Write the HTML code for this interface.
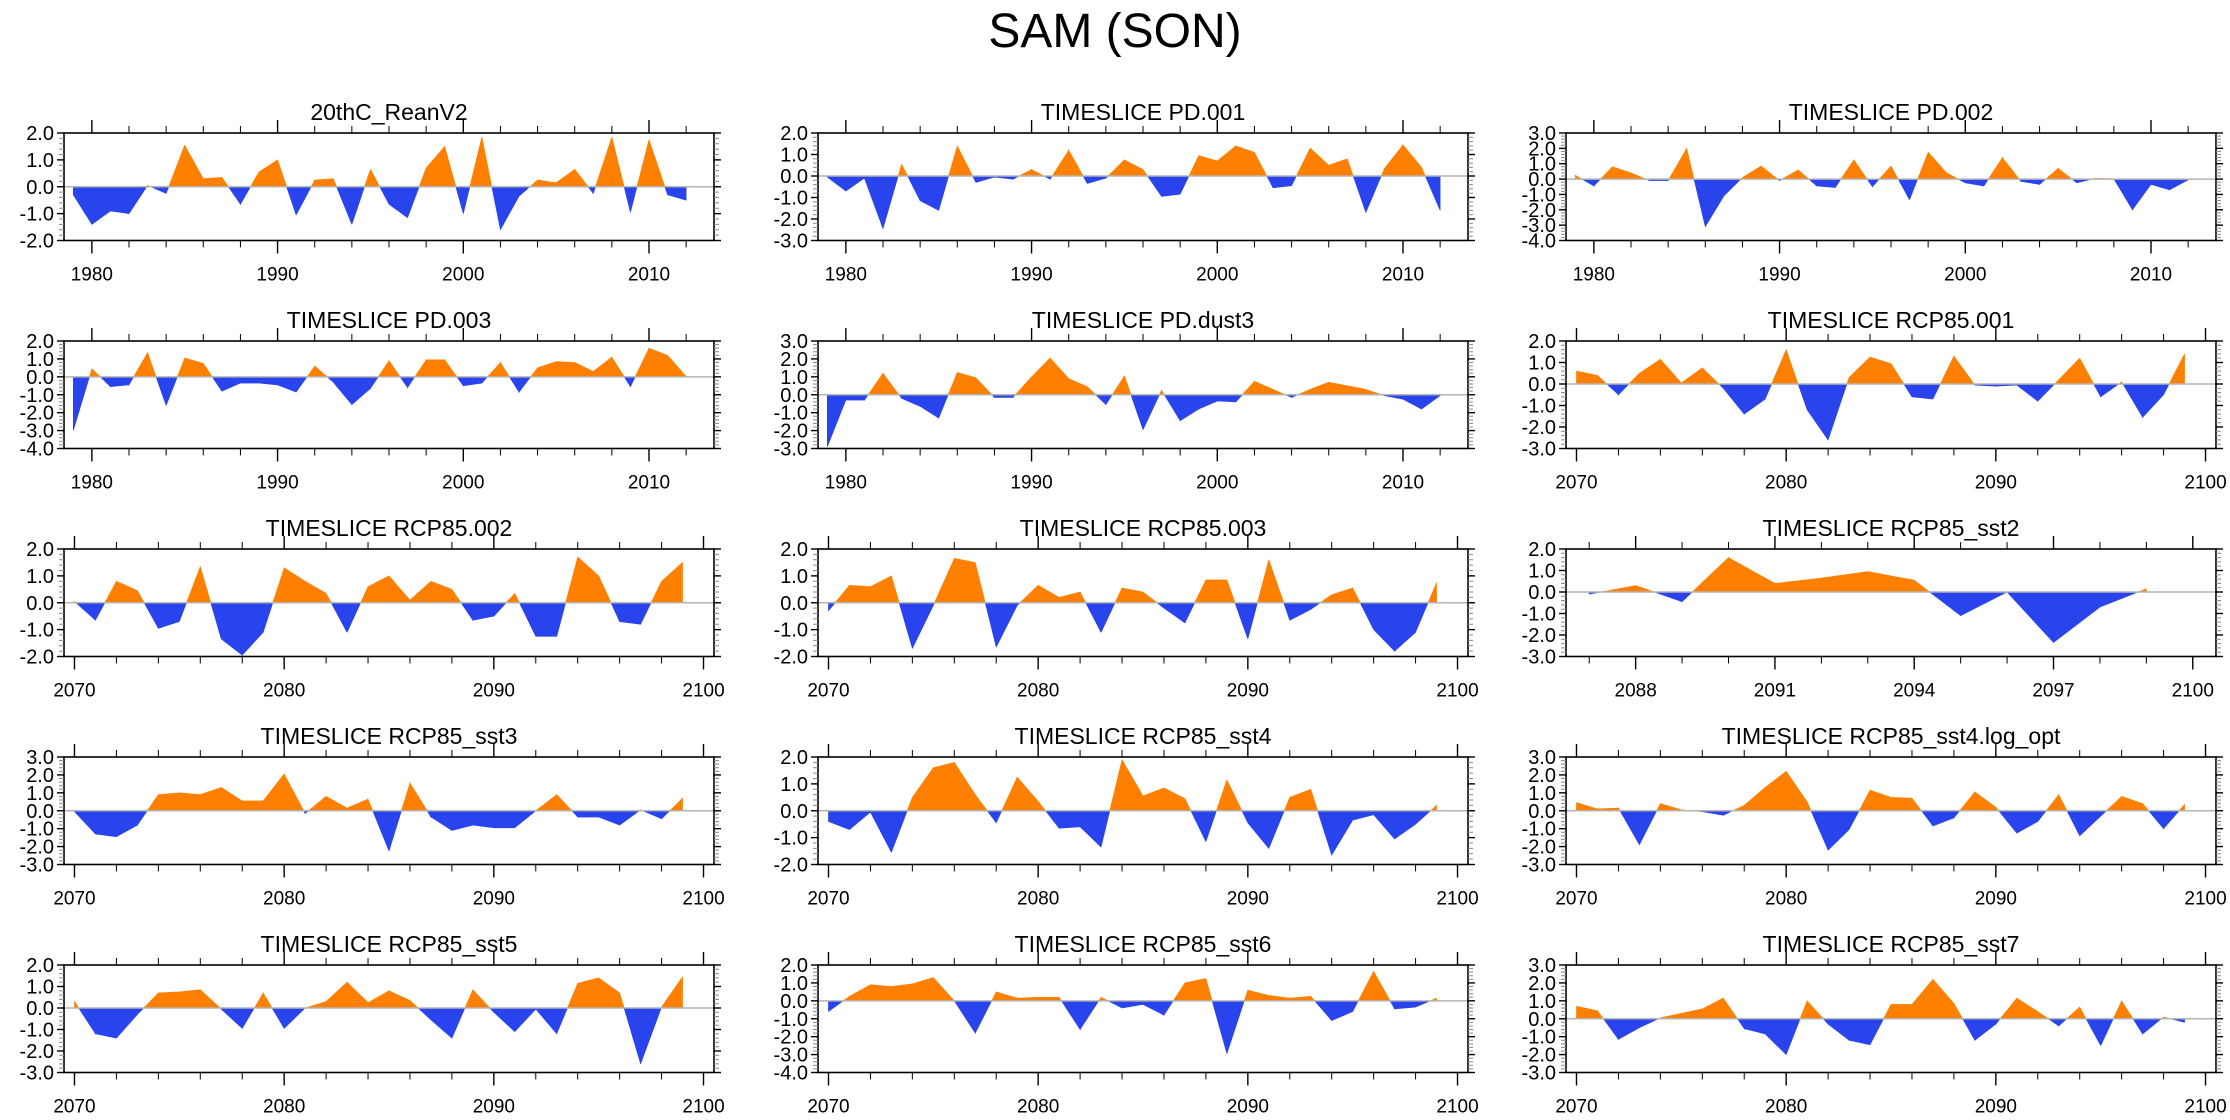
<!DOCTYPE html>
<html><head><meta charset="utf-8"><title>SAM (SON)</title>
<style>
html,body{margin:0;padding:0;background:#fff;}
svg{display:block;font-family:"Liberation Sans",Arial,sans-serif;}
</style></head>
<body>
<svg id="chart" width="2230" height="1120" viewBox="0 0 2230 1120" xmlns="http://www.w3.org/2000/svg">
<rect width="2230" height="1120" fill="#fff"/>
<text x="1115" y="47" font-size="48" text-anchor="middle" fill="#000">SAM (SON)</text>
</svg>
<script>
const titles = ["20thC_ReanV2","TIMESLICE PD.001","TIMESLICE PD.002","TIMESLICE PD.003","TIMESLICE PD.dust3","TIMESLICE RCP85.001","TIMESLICE RCP85.002","TIMESLICE RCP85.003","TIMESLICE RCP85_sst2","TIMESLICE RCP85_sst3","TIMESLICE RCP85_sst4","TIMESLICE RCP85_sst4.log_opt","TIMESLICE RCP85_sst5","TIMESLICE RCP85_sst6","TIMESLICE RCP85_sst7"];
const startYears = [1979,1979,1979,1979,1979,2070,2070,2070,2087,2070,2070,2070,2070,2070,2070];
const yMins = [-2,-3,-4,-4,-3,-3,-2,-2,-3,-3,-2,-3,-3,-4,-3];
const yMaxs = [2,2,3,2,3,2,2,2,2,3,2,3,2,2,3];
const xMajorSteps = [10,10,10,10,10,10,10,10,3,10,10,10,10,10,10];
const xMinorSteps = [2,2,2,2,2,2,2,2,1,2,2,2,2,2,2];

const v_reanV2 = [-0.3,-1.4,-0.9,-1.0,0.05,-0.25,1.55,0.3,0.35,-0.65,0.55,1.0,-1.05,0.25,0.3,-1.4,0.65,-0.65,-1.15,0.7,1.5,-1.0,1.85,-1.6,-0.35,0.25,0.15,0.65,-0.25,1.85,-0.95,1.75,-0.3,-0.5];
const v_pd001 = [-0.05,-0.7,-0.1,-2.45,0.55,-1.15,-1.6,1.4,-0.3,-0.05,-0.15,0.3,-0.15,1.2,-0.35,-0.1,0.75,0.3,-0.95,-0.85,0.95,0.7,1.4,1.1,-0.55,-0.45,1.3,0.5,0.8,-1.7,0.35,1.45,0.4,-1.6];
const v_pd002 = [0.25,-0.45,0.8,0.4,-0.1,-0.1,2.0,-3.1,-1.1,0.1,0.85,-0.1,0.6,-0.45,-0.55,1.25,-0.5,0.85,-1.35,1.75,0.4,-0.25,-0.45,1.4,-0.15,-0.35,0.7,-0.25,0.05,0.02,-2.0,-0.35,-0.7,-0.05];
const v_pd003 = [-3.0,0.45,-0.55,-0.45,1.35,-1.6,1.05,0.75,-0.8,-0.35,-0.35,-0.45,-0.85,0.6,-0.3,-1.55,-0.65,0.9,-0.6,0.95,0.95,-0.5,-0.35,0.8,-0.85,0.5,0.85,0.8,0.3,1.1,-0.55,1.6,1.2,0.02];
const v_pddust3 = [-2.9,-0.3,-0.3,1.2,-0.2,-0.65,-1.3,1.25,0.95,-0.15,-0.15,1.0,2.05,0.9,0.45,-0.55,1.05,-1.95,0.25,-1.45,-0.8,-0.35,-0.4,0.75,0.3,-0.15,0.3,0.7,0.5,0.3,-0.05,-0.25,-0.8,-0.05];
const v_rcp001 = [0.6,0.4,-0.5,0.5,1.15,0.05,0.75,-0.2,-1.4,-0.7,1.6,-1.2,-2.6,0.3,1.25,0.95,-0.6,-0.7,1.3,-0.05,-0.1,-0.05,-0.8,0.2,1.2,-0.6,0.1,-1.55,-0.5,1.4];
const v_rcp002 = [0.05,-0.65,0.8,0.45,-0.95,-0.7,1.35,-1.35,-1.95,-1.1,1.3,0.8,0.35,-1.1,0.6,1.0,0.1,0.8,0.5,-0.65,-0.5,0.35,-1.25,-1.25,1.7,1.0,-0.7,-0.8,0.8,1.5];
const v_rcp003 = [-0.3,0.65,0.6,1.0,-1.7,-0.1,1.65,1.5,-1.65,-0.1,0.65,0.2,0.4,-1.1,0.55,0.4,-0.2,-0.75,0.85,0.85,-1.35,1.6,-0.65,-0.25,0.3,0.55,-1.0,-1.8,-1.1,0.75];
const v_sst2 = [-0.1,0.3,-0.45,1.6,0.4,0.65,0.95,0.55,-1.1,0.0,-2.35,-0.7,0.15];
const v_sst3 = [-0.05,-1.3,-1.45,-0.8,0.9,1.0,0.9,1.3,0.55,0.55,2.05,-0.15,0.8,0.15,0.65,-2.25,1.55,-0.35,-1.1,-0.8,-0.95,-0.95,0.0,0.9,-0.35,-0.35,-0.8,0.05,-0.45,0.7];
const v_sst4 = [-0.4,-0.7,-0.05,-1.55,0.5,1.6,1.8,0.6,-0.45,1.25,0.35,-0.65,-0.6,-1.35,1.9,0.55,0.85,0.45,-1.15,1.15,-0.45,-1.4,0.5,0.8,-1.65,-0.35,-0.15,-1.05,-0.5,0.2];
const v_sst4log = [0.45,0.1,0.15,-1.9,0.4,0.05,-0.05,-0.25,0.3,1.3,2.2,0.5,-2.2,-1.05,1.15,0.75,0.7,-0.85,-0.4,1.05,0.2,-1.25,-0.6,0.9,-1.4,-0.3,0.8,0.4,-1.0,0.35];
const v_sst5 = [0.3,-1.2,-1.4,-0.3,0.7,0.75,0.85,-0.05,-0.95,0.7,-0.95,0.0,0.3,1.2,0.25,0.8,0.35,-0.55,-1.4,0.85,-0.2,-1.1,-0.05,-1.2,1.15,1.4,0.7,-2.6,0.05,1.45];
const v_sst6 = [-0.6,0.25,0.9,0.8,0.95,1.3,0.0,-1.8,0.5,0.15,0.2,0.2,-1.6,0.2,-0.4,-0.2,-0.8,1.0,1.25,-2.95,0.6,0.3,0.15,0.25,-1.1,-0.6,1.65,-0.45,-0.35,0.15];
const v_sst7 = [0.7,0.45,-1.15,-0.5,0.05,0.3,0.55,1.15,-0.55,-0.85,-2.0,1.0,-0.3,-1.2,-1.45,0.8,0.8,2.2,0.85,-1.2,-0.3,1.15,0.4,-0.4,0.65,-1.5,1.0,-0.85,0.1,-0.2];
const seriesValues = [v_reanV2,v_pd001,v_pd002,v_pd003,v_pddust3,v_rcp001,v_rcp002,v_rcp003,v_sst2,v_sst3,v_sst4,v_sst4log,v_sst5,v_sst6,v_sst7];

const NS = "http://www.w3.org/2000/svg";
const svg = document.getElementById("chart");
const colLeft = [64, 818, 1566];
const boxW = 650, boxH = 107.5, rowTop0 = 133, rowStep = 208;

function mk(tag, attrs, parent) {
  const e = document.createElementNS(NS, tag);
  for (const k in attrs) e.setAttribute(k, attrs[k]);
  parent.appendChild(e);
  return e;
}
function slug(s){return s.toLowerCase().replace(/[^a-z0-9]+/g,'-').replace(/^-|-$/g,'');}

for (let p = 0; p < titles.length; p++) {
  const col = p % 3, row = Math.floor(p / 3);
  const L = colLeft[col], T = rowTop0 + row * rowStep, R = L + boxW, B = T + boxH;
  const vals = seriesValues[p];
  const x0 = startYears[p] - 0.5, x1 = startYears[p] + vals.length - 1 + 1.5;
  const yMin = yMins[p], yMax = yMaxs[p];
  const sx = yr => L + (yr - x0) / (x1 - x0) * boxW;
  const sy = v => T + (yMax - v) / (yMax - yMin) * boxH;

  const g = mk("g", {}, svg);
  
  

  const t = mk("text", {x: (L + R) / 2, y: T - 13, "font-size": 23, "text-anchor": "middle", fill: "#000"}, g);
  t.textContent = titles[p];
  
  

  // fills
  let pos = "", neg = "";
  const y0 = sy(0);
  for (let i = 0; i < vals.length - 1; i++) {
    const a = vals[i], b = vals[i + 1];
    const xa = sx(startYears[p] + i), xb = sx(startYears[p] + i + 1);
    if ((a >= 0 && b >= 0) || (a <= 0 && b <= 0)) {
      const d = `M${xa},${y0}L${xa},${sy(a)}L${xb},${sy(b)}L${xb},${y0}Z`;
      if (a + b >= 0) pos += d; else neg += d;
    } else {
      const f = a / (a - b), xc = xa + f * (xb - xa);
      const d1 = `M${xa},${y0}L${xa},${sy(a)}L${xc},${y0}Z`;
      const d2 = `M${xc},${y0}L${xb},${sy(b)}L${xb},${y0}Z`;
      if (a > 0) { pos += d1; neg += d2; } else { neg += d1; pos += d2; }
    }
  }
  const pp = mk("path", {d: pos, fill: "#ff8000", stroke: "#ff8000", "stroke-width": 0.6}, g);
  
  
  const np = mk("path", {d: neg, fill: "#2944ec", stroke: "#2944ec", "stroke-width": 0.6}, g);
  
  

  const zl = mk("line", {x1: L, x2: R, y1: y0, y2: y0, stroke: "#b4b4b4", "stroke-width": 1.5}, g);
  
  

  const box = mk("rect", {x: L, y: T, width: boxW, height: boxH, fill: "none", stroke: "#000", "stroke-width": 1.6}, g);
  
  

  // x ticks
  const ms = xMinorSteps[p], Ms = xMajorSteps[p];
  for (let yr = Math.ceil(x0 / ms) * ms; yr <= x1; yr += ms) {
    const X = sx(yr);
    const major = yr % Ms === 0;
    const len = major ? 13 : 7;
    mk("line", {x1: X, x2: X, y1: T, y2: T - len, stroke: "#000", "stroke-width": major ? 1.4 : 1}, g);
    mk("line", {x1: X, x2: X, y1: B, y2: B + len, stroke: "#000", "stroke-width": major ? 1.4 : 1}, g);
  }
  for (let yr = Math.ceil(x0 / Ms) * Ms; yr <= x1; yr += Ms) {
    const lab = mk("text", {x: sx(yr), y: B + 40, "font-size": 19, "text-anchor": "middle", fill: "#000"}, g);
    lab.textContent = String(yr);
    
    
  }
  // y ticks
  for (let k = Math.round(yMin * 5); k <= Math.round(yMax * 5); k++) {
    const v = k / 5, Y = sy(v);
    const major = k % 5 === 0;
    const len = major ? 7 : 5, col2 = major ? "#000" : "#888";
    mk("line", {x1: L, x2: L - len, y1: Y, y2: Y, stroke: col2, "stroke-width": major ? 1.4 : 1}, g);
    mk("line", {x1: R, x2: R + len, y1: Y, y2: Y, stroke: col2, "stroke-width": major ? 1.4 : 1}, g);
    if (major) {
      const lab = mk("text", {x: L - 10, y: Y + 7, "font-size": 20, "text-anchor": "end", fill: "#000"}, g);
      lab.textContent = v.toFixed(1);
      
      
    }
  }
}
</script>
</body></html>
